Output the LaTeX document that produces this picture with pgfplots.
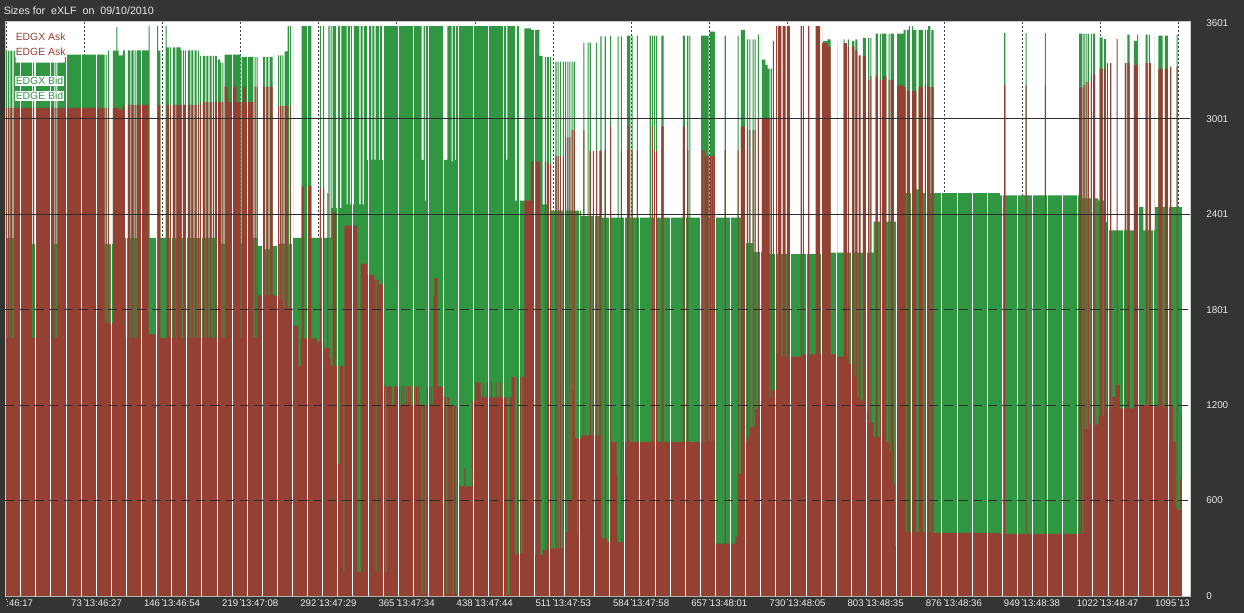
\documentclass[border=0pt]{standalone}
\usepackage{fontspec}
\setmainfont{Liberation Sans}
\usepackage{pgfplots}
\usepackage{pgfplotstable}
\pgfplotsset{compat=1.18}
\usetikzlibrary{backgrounds}
\definecolor{bgdark}{RGB}{51,53,50}
\definecolor{askred}{RGB}{148,64,51}
\definecolor{bidgreen}{RGB}{48,150,66}
\definecolor{gridc}{RGB}{45,45,45}
\definecolor{framec}{RGB}{200,200,200}
\definecolor{txtc}{RGB}{235,235,235}

% x = point index, g = bid size (EDGX/EDGE Bid), r = ask size (EDGX/EDGE Ask)
\pgfplotstableread{
x g r
0 3430 3070
1 2250 1623
2 3430 3070
3 2250 1623
4 3430 3070
6 2250 1623
7 3430 3070
9 3355 3070
24 2214 1623
25 3355 3070
26 2214 1623
27 3355 3070
45 2214 1623
46 3355 3070
47 2214 1623
48 3355 3070
55 3404 3070
70 2202 1786
71 3404 3070
92 2214 1716
93 3404 3070
94 2214 1716
95 3430 3070
96 2214 1716
98 3430 3070
99 2214 1716
100 3430 3070
103 3580 3070
104 3430 3070
105 3400 3060
109 3432 3089
111 2250 1623
112 3432 3089
113 2250 1623
114 3432 3089
116 2250 1623
117 3432 3089
119 2250 1623
120 3432 3089
121 2250 1623
122 3432 3089
133 3584 1646
134 2253 1646
141 3584 1646
142 3430 3089
144 2253 1623
149 3584 1623
150 3450 3089
152 2250 1623
153 3450 3089
155 2250 1623
156 3450 3089
158 2250 1623
159 3450 3089
163 3432 3089
164 2250 1623
165 3432 3089
166 3089 3089
167 3432 3089
169 2250 1623
170 3432 3089
172 2250 1623
173 3432 3089
175 2250 1623
176 3432 3089
178 2250 1623
179 3432 3089
180 2250 1623
181 3397 3106
183 2253 1623
184 3397 3106
186 2253 1623
187 3397 3106
189 2253 1623
190 3397 3106
192 2253 1623
193 3397 3106
194 2253 1623
195 3397 3106
197 3374 3106
200 3351 3106
201 2214 1623
202 3351 3106
203 2214 1623
204 3404 3204
207 3404 3106
212 3404 3204
215 3404 3106
219 2214 1623
220 3390 3106
221 3390 3204
224 3390 3106
231 2253 1623
232 3390 3204
233 2253 1623
234 3390 3204
235 2202 1891
240 3390 3204
242 2180 1891
243 3390 3204
245 2180 1891
246 3390 3204
249 2202 1891
253 3400 3082
255 2214 1866
256 3400 3082
257 2214 1866
258 3400 3082
259 2214 1810
260 3425 3082
263 3584 1810
264 2214 1810
265 3584 3082
266 2214 1810
267 3584 1810
268 2253 1700
273 2253 1448
275 2253 1620
276 3584 2580
278 3584 1620
282 3584 2580
285 2253 1620
290 2253 1600
293 3584 2569
294 2253 1600
296 3584 2569
297 2253 1560
300 2253 2533
301 3584 1560
302 2253 1500
303 3584 1448
304 2440 1448
305 3584 2417
308 2440 1448
309 3584 1448
310 3584 829
312 2440 1448
313 3584 1448
315 3584 152
316 3584 2330
318 2463 2330
319 3584 2330
321 2463 2330
322 3584 2330
324 2463 2330
325 3584 2330
328 3584 152
330 2463 152
331 3584 2090
333 2463 2090
334 3584 2090
337 2743 2020
338 3584 152
339 3584 2020
341 2743 2020
342 3584 2020
344 2743 1990
345 3584 152
346 3584 1990
348 2743 1960
349 3584 1960
351 2743 1960
352 3584 1319
354 3584 152
355 3584 1319
360 3584 1200
362 3584 1319
368 3584 1203
369 3584 1319
370 3584 1203
371 3584 1319
372 3584 1203
373 3584 1319
374 3584 1203
375 3584 1319
376 3584 1203
377 3584 1319
378 3584 1203
381 3584 1319
382 3584 1203
383 3584 1319
384 3584 1203
385 3584 1319
386 3584 1203
388 2743 12
389 2743 1203
390 3584 1203
391 2487 12
392 3584 1203
393 3584 1319
394 3584 1203
395 3584 1319
396 3584 1203
397 3584 1319
398 3584 1203
399 3584 1890
400 3584 2000
403 3584 1319
408 2743 1250
411 2743 12
412 3584 1250
414 3584 1196
416 2732 1196
417 3584 12
418 3584 1196
419 2743 1196
420 3584 12
421 3584 1196
422 3584 689
428 3584 806
429 3584 689
435 3584 1226
438 3584 1343
443 3584 1249
445 3584 1343
446 3584 1249
449 3584 1343
450 3584 1249
453 3584 1343
454 3584 1249
457 3584 1343
458 3584 1249
461 3584 1343
462 3584 1249
467 2743 1249
468 3584 10
470 3584 1249
472 3584 1378
475 2487 257
477 3584 1378
478 3584 269
479 3584 1378
480 2487 1378
481 2487 269
482 2487 1378
484 3570 2487
490 3560 2732
493 3560 257
495 3560 2732
498 3397 2732
499 3397 257
501 2463 290
503 3390 2732
504 2463 290
505 3390 2732
506 3390 2720
509 2424 300
513 3360 2767
514 2424 300
515 3360 2767
516 2424 300
517 3360 2767
518 2424 300
520 3360 2767
521 2424 315
522 3360 2884
523 2424 400
524 3360 2884
525 2424 600
526 3360 2884
527 2424 600
528 3360 2930
529 2424 1300
530 3360 2930
531 2424 992
533 2424 385
534 2424 992
537 2389 1010
539 3480 2930
540 2389 1010
543 3480 1010
544 2389 1010
545 3480 2800
546 2389 1010
548 2389 2800
549 2389 1010
551 3480 2800
552 2389 1010
554 2389 2800
555 3520 2802
556 2380 362
559 3520 2802
560 2380 362
561 2380 339
563 2380 969
564 3525 2954
565 2380 969
570 2380 758
571 3520 339
572 2380 339
574 3520 2802
575 2380 339
576 2380 969
580 3525 2802
581 3525 2954
582 3525 969
583 2380 969
584 3525 2802
585 2380 969
589 3525 2802
590 2380 969
601 3525 969
602 2380 969
603 3525 2954
604 2380 969
605 3525 2802
608 2380 969
612 3525 2954
614 2380 969
632 3525 2954
634 2380 969
636 3525 2802
637 2380 969
638 3525 969
639 2380 969
649 3525 969
650 3525 2802
651 3525 969
652 3525 2802
653 3525 2767
656 2380 969
657 3550 2767
658 3550 969
659 3550 2767
660 3550 969
661 3550 2767
662 2380 330
671 3525 2802
672 2380 330
681 2380 374
683 3525 2802
684 2380 770
686 3560 2954
690 3500 2802
691 2220 969
692 3500 2930
693 2220 1000
694 3500 2930
695 2220 1060
697 3500 2930
698 2163 1062
699 3500 2930
700 2163 1177
702 3530 3000
703 2163 1200
704 3530 3000
705 2163 1226
706 3374 3000
709 3340 3000
711 3316 3000
713 2150 1249
714 3316 3000
715 2150 1296
716 2150 3491
717 2150 1296
719 2150 3584
720 2150 1529
721 2150 3584
724 2150 1506
725 2150 3584
728 2150 1506
729 2150 3584
732 2150 1506
742 2150 3584
743 2150 1520
744 2150 3584
745 2150 1520
749 2150 3584
750 2150 1520
756 2150 3584
760 2150 1520
761 2150 3584
762 2150 3477
763 3490 3477
767 3500 3455
770 2160 1520
775 3500 3455
776 2160 1506
782 3500 3477
783 2160 3477
785 2160 1506
786 3500 3455
787 2160 1460
790 3490 3455
792 2160 1380
793 3500 3432
795 2160 1250
796 2160 3400
798 2160 1230
800 3510 3397
803 2160 1160
805 3510 3246
806 2160 1090
807 3510 3270
808 2160 1090
810 2354 1000
812 3537 3270
814 2354 1000
816 3537 3246
819 3537 3269
822 2354 970
824 3537 3246
825 2354 910
826 3537 3246
829 2354 700
830 2354 315
831 2475 420
832 3537 3211
838 3560 3200
840 2533 400
841 3560 3176
843 3584 3176
844 2533 400
846 3584 3176
847 3560 3176
850 2557 400
852 3560 3200
856 2533 400
858 3560 3211
861 3584 3200
863 2533 400
864 3560 3200
866 2533 397
928 2520 390
932 3540 3211
933 2520 390
952 3540 3211
953 2520 390
970 3540 3211
971 2520 390
1002 3537 3199
1005 2500 390
1006 3537 3211
1007 2500 1050
1008 3537 3234
1009 2500 1050
1010 3537 3234
1011 2500 1050
1012 2500 1080
1013 3537 3280
1017 2500 1080
1020 2487 1130
1021 3514 3316
1024 2487 1130
1025 3502 3316
1027 2351 1180
1028 3351 3351
1029 2300 1180
1031 2300 3351
1032 2300 1180
1033 2300 1250
1036 2300 1330
1037 2300 3502
1038 2300 1330
1040 2300 1180
1043 3502 3351
1044 2300 1180
1045 2300 3351
1046 2300 1180
1047 3530 3351
1049 2300 1180
1053 3491 3339
1056 3530 3339
1058 2445 1200
1062 2300 1200
1064 3530 3351
1066 2300 1200
1067 3530 3351
1068 2300 3351
1069 2300 1200
1071 3530 3351
1072 2300 1200
1073 2445 1190
1076 3525 3316
1080 2445 1190
1082 3525 3316
1085 2445 1190
1086 2445 969
1087 2445 3330
1088 2445 1190
1090 2445 969
1092 2445 549
1093 3530 3330
1094 2445 540
1096 2445 735
1097 2445 1140
1098 0 0
}\sizes

\begin{document}
\begin{tikzpicture}[x=0.75pt,y=0.75pt]
\begin{axis}[
  scale only axis, width=888.75pt, height=430.5pt,
  xmin=-1, xmax=1105.5, ymin=0, ymax=3610,
  axis background/.style={fill=white},
  axis line style={draw=framec, line width=0.75pt},
  xtick={0,73,146,219,292,365,438,511,584,657,730,803,876,949,1022,1095},
  xticklabels={{:46:17},{\llap{73\ }13:46:27},{\llap{146\ }13:46:54},{\llap{219\ }13:47:08},{\llap{292\ }13:47:29},{\llap{365\ }13:47:34},{\llap{438\ }13:47:44},{\llap{511\ }13:47:53},{\llap{584\ }13:47:58},{\llap{657\ }13:48:01},{\llap{730\ }13:48:05},{\llap{803\ }13:48:35},{\llap{876\ }13:48:36},{\llap{949\ }13:48:38},{\llap{1022\ }13:48:47},{\llap{1095\ }13}},
  ytick={0,600,1200,1801,2401,3001,3601},
  yticklabels={0,600,1200,1801,2401,3001,3601},
  xtick pos=lower, ytick pos=right, yticklabel pos=right,
  ytick style={draw=none},
  xtick style={draw=txtc, line width=0.6pt, dash pattern=on 1pt off 1pt},
  tick align=outside, major tick length=3pt,
  xmajorgrids,
  major x grid style={draw=black!75, dash pattern=on 1.5pt off 1.5pt, line width=0.75pt},
  xticklabel style={anchor=north west, inner sep=0pt, font=\fontsize{7.2}{8}\selectfont, text=txtc},
  yticklabel style={anchor=west, inner sep=0pt, xshift=9pt, font=\fontsize{7.4}{8}\selectfont, text=txtc},
]
\addplot[const plot mark left, draw=none, fill=bidgreen] table[x=x,y=g]{\sizes} \closedcycle;
\addplot[const plot mark left, draw=none, fill=askred] table[x=x,y=r]{\sizes} \closedcycle;
\addplot[ycomb, draw=white, line width=0.7pt, mark=none] coordinates {
(13.7,3610) (27.8,3610) (41.9,3610) (56.0,3610) (70.1,3610) (84.2,3610) (98.3,3610) (112.4,3610)
(126.5,3610) (140.6,3610) (154.7,3610) (168.8,3610) (182.9,3610) (197.0,3610) (211.1,3610) (225.2,3610)
(239.3,3610) (253.4,3610) (267.5,3610) (281.6,3610) (295.7,3610) (309.8,3610) (323.9,3610) (338.0,3610)
(352.1,3610) (366.2,3610) (380.3,3610) (394.4,3610) (408.5,3610) (422.6,3610) (436.7,3610) (450.8,3610)
(464.9,3610) (479.0,3610) (493.1,3610) (507.2,3610) (521.3,3610) (535.4,3610) (549.5,3610) (563.6,3610)
(577.7,3610) (591.8,3610) (605.9,3610) (620.0,3610) (634.1,3610) (648.2,3610) (662.3,3610) (676.4,3610)
(690.5,3610) (704.6,3610) (718.7,3610) (732.8,3610) (746.9,3610) (761.0,3610) (775.1,3610) (789.2,3610)
(803.3,3610) (817.4,3610) (831.5,3610) (845.6,3610) (859.7,3610) (873.8,3610) (887.9,3610) (902.0,3610)
(916.1,3610) (930.2,3610) (944.3,3610) (958.4,3610) (972.5,3610) (986.6,3610) (1000.7,3610) (1014.8,3610)
(1028.9,3610) (1043.0,3610) (1057.1,3610) (1071.2,3610) (1085.3,3610)
};
\draw[gridc, line width=0.8pt] (axis cs:-1,3001) -- (axis cs:1105.5,3001);
\draw[gridc, line width=0.8pt] (axis cs:-1,2401) -- (axis cs:1105.5,2401);
\draw[gridc, line width=0.75pt, dash pattern=on 7pt off 4pt] (axis cs:-1,1801) -- (axis cs:1105.5,1801);
\draw[gridc, line width=0.75pt, dash pattern=on 7pt off 4pt] (axis cs:-1,1200) -- (axis cs:1105.5,1200);
\draw[gridc, line width=0.75pt, dash pattern=on 7pt off 4pt] (axis cs:-1,600) -- (axis cs:1105.5,600);
\coordinate (bl) at (rel axis cs:0,0);
\end{axis}
\pgfresetboundingbox
\begin{scope}[shift={(bl)}, xshift=-3.75pt, yshift=-12.75pt]
\useasboundingbox (0,0) rectangle (1244,613);
\begin{pgfonlayer}{background}
\fill[bgdark] (0,0) rectangle (1244,613);
\end{pgfonlayer}
\node[anchor=west, inner sep=0pt, text=txtc, font=\fontsize{8}{9.6}\selectfont] at (3.5,602) {Sizes for\ \ eXLF\ \ on\ \ 09/10/2010};
\begin{scope}[every node/.style={anchor=west, fill=white, inner xsep=0.4pt, inner ysep=1pt, font=\fontsize{7.8}{9}\selectfont}]
\node[text=askred] at (15,576) {EDGX Ask};
\node[text=askred] at (15,561) {EDGE Ask};
\node[text=bidgreen] at (15,532) {EDGX Bid};
\node[text=bidgreen] at (15,517) {EDGE Bid};
\end{scope}
\end{scope}
\end{tikzpicture}
\end{document}
